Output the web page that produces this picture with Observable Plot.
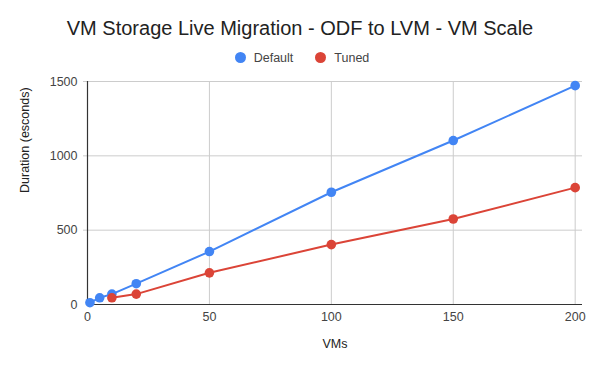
<!DOCTYPE html>
<html><head><meta charset="utf-8">
<script src="https://cdn.jsdelivr.net/npm/d3@7"></script>
<script src="https://cdn.jsdelivr.net/npm/@observablehq/plot@0.6"></script>
<style>
body{margin:0;background:#fff;font-family:"Liberation Sans",Arial,sans-serif;}
#wrap{width:600px;}
#title{height:46px;line-height:56px;text-align:center;font-size:20px;color:#222;}
#legend{height:24px;display:flex;justify-content:center;align-items:center;font-size:12.5px;color:#444;gap:22px;padding-left:4px;}
#legend span.sw{display:inline-block;width:11px;height:11px;border-radius:50%;margin-right:8px;vertical-align:-1px;}
</style></head>
<body><div id="wrap">
<div id="title">VM Storage Live Migration - ODF to LVM - VM Scale</div>
<div id="legend"></div>
<div id="chart"></div>
</div>
<script>
const seriesNames = ["Default", "Tuned"];
const colors = ["#4285F4", "#DB4437"];
const defaultVMs = [1, 5, 10, 20, 50, 100, 150, 200];
const defaultDur = [12, 45, 70, 140, 356, 755, 1103, 1472];
const tunedVMs = [10, 20, 50, 100, 150, 200];
const tunedDur = [45, 70, 213, 403, 575, 786];
const xTicks = [0, 50, 100, 150, 200];
const yTicks = [0, 500, 1000, 1500];

const data = [
  ...defaultVMs.map((v, i) => ({series: "Default", vms: v, dur: defaultDur[i]})),
  ...tunedVMs.map((v, i) => ({series: "Tuned", vms: v, dur: tunedDur[i]}))
];

const lg = document.getElementById("legend");
seriesNames.forEach((s, i) => {
  const d = document.createElement("div");
  d.innerHTML = `<span class="sw" style="background:${colors[i]}"></span>${s}`;
  lg.appendChild(d);
});

const chart = Plot.plot({
  width: 600,
  height: 301,
  marginLeft: 87,
  marginRight: 18,
  marginTop: 11,
  marginBottom: 67,
  style: {fontFamily: "Liberation Sans, Arial, sans-serif", fontSize: "12px", color: "#444", background: "#fff"},
  x: {domain: [0, 203], ticks: xTicks, label: null},
  y: {domain: [0, 1500], ticks: yTicks, label: null},
  color: {domain: seriesNames, range: colors},
  marks: [
    Plot.gridX(xTicks.filter(t => t > 0), {stroke: "#ccc", strokeOpacity: 1}),
    Plot.gridY(yTicks.filter(t => t > 0), {stroke: "#ccc", strokeOpacity: 1, insetLeft: -4}),
    Plot.axisX({ticks: xTicks, tickSize: 0, tickPadding: 8, fontSize: 12.5, fill: "#444", tickFormat: d => String(d)}),
    Plot.axisY({ticks: yTicks, tickSize: 0, tickPadding: 10, fontSize: 12.5, fill: "#444", tickFormat: d => String(d)}),
    Plot.ruleY([0], {stroke: "#333", strokeWidth: 1.2}),
    Plot.ruleX([0], {stroke: "#333", strokeWidth: 1.2}),
    Plot.line(data, {x: "vms", y: "dur", z: "series", stroke: "series", strokeWidth: 2}),
    Plot.dot(data, {x: "vms", y: "dur", fill: "series", r: 4.8}),
    Plot.text(["VMs"], {frameAnchor: "bottom", dy: 43, fontSize: 12.5, fill: "#222"}),
    Plot.text(["Duration (esconds)"], {frameAnchor: "left", dx: -63, rotate: -90, fontSize: 12.5, fill: "#222"})
  ]
});
document.getElementById("chart").appendChild(chart);
</script>
</body></html>
